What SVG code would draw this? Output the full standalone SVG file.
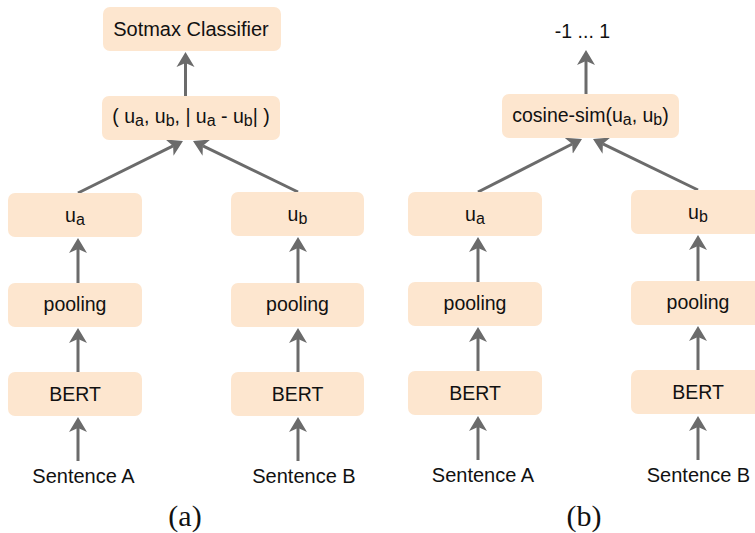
<svg xmlns="http://www.w3.org/2000/svg" width="755" height="533" viewBox="0 0 755 533">
<defs>
<style>
.box{fill:#FDE6CF;}
.t{font-family:"Liberation Sans",Arial,sans-serif;font-size:19.5px;fill:#111;text-anchor:middle;}
.s{font-size:16px;}
.cap{font-family:"Liberation Serif","Times New Roman",serif;font-size:30px;fill:#111;text-anchor:middle;}
.c{stroke:#6B6B6B;stroke-width:3;fill:none;marker-end:url(#ah);}
</style>
<marker id="ah" markerUnits="userSpaceOnUse" viewBox="0 -10 16 20" markerWidth="16" markerHeight="20" refX="4" refY="0" orient="auto">
<path d="M15,0 L0,-9 L4,0 L0,9 Z" fill="#6B6B6B"/>
</marker>
</defs>
<rect width="755" height="533" fill="#fff"/>

<g id="connectors">
<!-- panel a -->
<line class="c" x1="185.5" y1="96" x2="185.5" y2="63"/>
<line class="c" x1="78" y1="193" x2="173.1" y2="145.9"/>
<line class="c" x1="298" y1="192" x2="202.9" y2="145.8"/>
<line class="c" x1="78" y1="283" x2="78" y2="249"/>
<line class="c" x1="78" y1="372" x2="78" y2="339"/>
<line class="c" x1="78" y1="461" x2="78" y2="428"/>
<line class="c" x1="298" y1="283" x2="298" y2="248"/>
<line class="c" x1="298" y1="372" x2="298" y2="339"/>
<line class="c" x1="298" y1="461" x2="298" y2="428"/>
<!-- panel b -->
<line class="c" x1="586" y1="94" x2="586" y2="61"/>
<line class="c" x1="478" y1="192" x2="572.2" y2="144"/>
<line class="c" x1="698" y1="190" x2="602.9" y2="143.8"/>
<line class="c" x1="478" y1="282" x2="478" y2="248"/>
<line class="c" x1="478" y1="371" x2="478" y2="338"/>
<line class="c" x1="478" y1="460" x2="478" y2="427"/>
<line class="c" x1="698" y1="281" x2="698" y2="246"/>
<line class="c" x1="698" y1="370" x2="698" y2="337"/>
<line class="c" x1="698" y1="460" x2="698" y2="427"/>
</g>

<!-- panel a nodes -->
<g id="a-softmax"><rect class="box" x="103" y="7" width="178" height="44" rx="7"/><text class="t" x="191" y="35.5" style="font-size:20px">Sotmax Classifier</text></g>
<g id="a-concat"><rect class="box" x="102" y="96" width="178" height="44" rx="7"/><text class="t" x="191" y="123">( u<tspan class="s" dy="3">a</tspan><tspan dy="-3">, u</tspan><tspan class="s" dy="3">b</tspan><tspan dy="-3">, | u</tspan><tspan class="s" dy="3">a</tspan><tspan dy="-3"> - u</tspan><tspan class="s" dy="3">b</tspan><tspan dy="-3">| )</tspan></text></g>
<g id="a-ua"><rect class="box" x="8" y="193" width="134" height="44" rx="7"/><text class="t" x="75" y="221.5">u<tspan class="s" dy="3">a</tspan></text></g>
<g id="a-ub"><rect class="box" x="231" y="192" width="133" height="44" rx="7"/><text class="t" x="297.5" y="220.5">u<tspan class="s" dy="3">b</tspan></text></g>
<g id="a-pool-a"><rect class="box" x="8" y="283" width="134" height="44" rx="7"/><text class="t" x="75" y="311">pooling</text></g>
<g id="a-pool-b"><rect class="box" x="231" y="283" width="133" height="44" rx="7"/><text class="t" x="297.5" y="311">pooling</text></g>
<g id="a-bert-a"><rect class="box" x="8" y="372" width="134" height="44" rx="7"/><text class="t" x="75" y="400.5">BERT</text></g>
<g id="a-bert-b"><rect class="box" x="231" y="372" width="133" height="44" rx="7"/><text class="t" x="297.5" y="400.5">BERT</text></g>
<g id="a-sent-a"><text class="t" x="83.5" y="482.5" style="font-size:20px">Sentence A</text></g>
<g id="a-sent-b"><text class="t" x="304" y="482.5" style="font-size:20px">Sentence B</text></g>
<text class="cap" x="185" y="526">(a)</text>

<!-- panel b nodes -->
<g id="b-out"><text class="t" x="582.5" y="38">-1 ... 1</text></g>
<g id="b-cos"><rect class="box" x="502" y="94" width="177" height="44" rx="7"/><text class="t" x="590.5" y="122">cosine-sim(u<tspan class="s" dy="3">a</tspan><tspan dy="-3">, u</tspan><tspan class="s" dy="3">b</tspan><tspan dy="-3">)</tspan></text></g>
<g id="b-ua"><rect class="box" x="408" y="192" width="134" height="44" rx="7"/><text class="t" x="475" y="220.5">u<tspan class="s" dy="3">a</tspan></text></g>
<g id="b-ub"><rect class="box" x="631" y="190" width="134" height="44" rx="7"/><text class="t" x="698" y="218.5">u<tspan class="s" dy="3">b</tspan></text></g>
<g id="b-pool-a"><rect class="box" x="408" y="282" width="134" height="44" rx="7"/><text class="t" x="475" y="310">pooling</text></g>
<g id="b-pool-b"><rect class="box" x="631" y="281" width="134" height="44" rx="7"/><text class="t" x="698" y="309">pooling</text></g>
<g id="b-bert-a"><rect class="box" x="408" y="371" width="134" height="44" rx="7"/><text class="t" x="475" y="399.5">BERT</text></g>
<g id="b-bert-b"><rect class="box" x="631" y="370" width="134" height="44" rx="7"/><text class="t" x="698" y="398.5">BERT</text></g>
<g id="b-sent-a"><text class="t" x="483" y="481.5" style="font-size:20px">Sentence A</text></g>
<g id="b-sent-b"><text class="t" x="698.5" y="481.5" style="font-size:20px">Sentence B</text></g>
<text class="cap" x="584" y="526">(b)</text>
</svg>
